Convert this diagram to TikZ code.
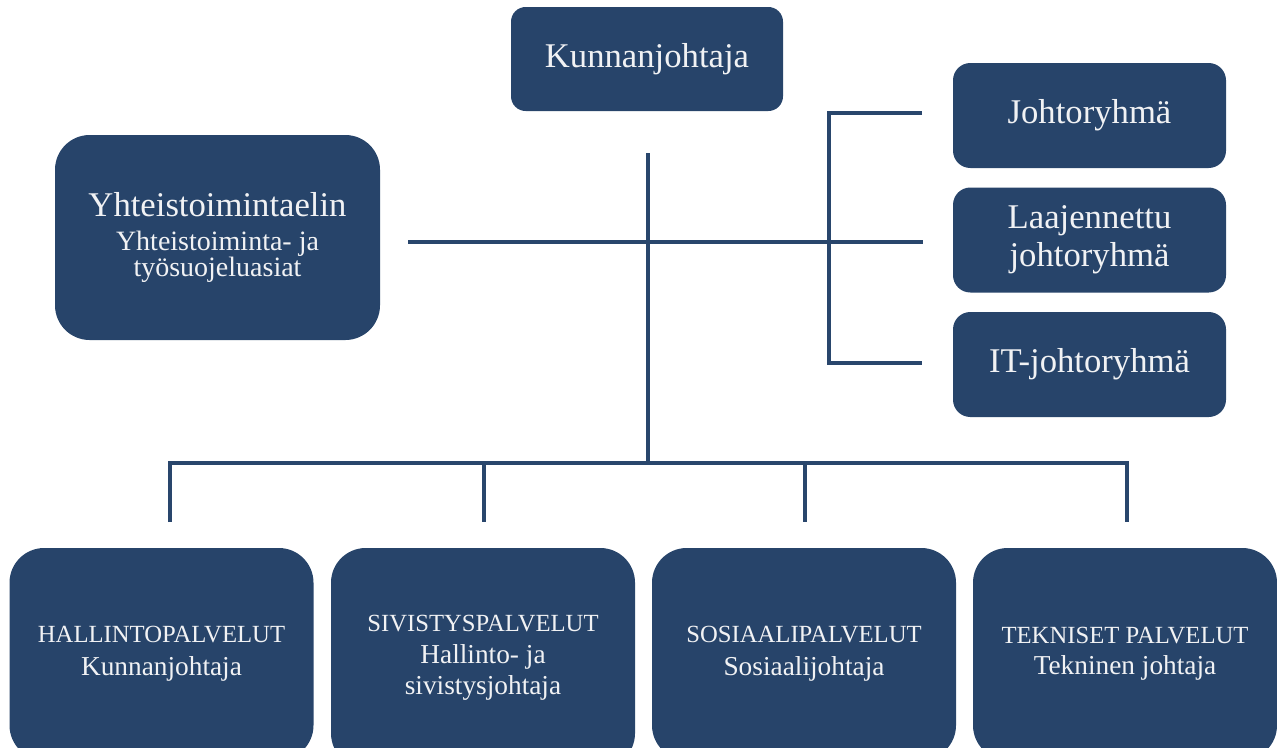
\documentclass[tikz,border=0pt]{standalone}
\usepackage{fontspec}
\setmainfont{Liberation Serif}
\definecolor{boxblue}{RGB}{39,68,106}
\definecolor{lineblue}{RGB}{41,70,108}
\definecolor{txtwhite}{RGB}{241,242,244}
\begin{document}
\begin{tikzpicture}[x=0.75pt,y=-0.75pt,
  orgbox/.style={fill=boxblue,draw=none,text=txtwhite,align=center,inner sep=0pt},
  topbox/.style={orgbox,minimum width=204pt,minimum height=78pt,rounded corners=11pt,font=\fontsize{26}{30}\selectfont},
  sidebox/.style={orgbox,minimum width=204.75pt,minimum height=78.75pt,rounded corners=13pt,font=\fontsize{26}{28.5}\selectfont},
  bigbox/.style={orgbox,minimum width=243.75pt,minimum height=153.75pt,rounded corners=26pt,font=\fontsize{21}{19.5}\selectfont},
  unitbox/.style={orgbox,minimum width=228pt,minimum height=159pt,rounded corners=26pt,font=\fontsize{20.5}{25}\selectfont},
  conn/.style={draw=lineblue,line width=2.4pt}]
\useasboundingbox (0,0) rectangle (1277,747);
\clip (0,0) rectangle (1277,747);

\node[topbox] (kj) at (647,59) {Kunnanjohtaja};
\node[bigbox] (yt) at (217.5,237.5) {{\fontsize{26}{28}\selectfont Yhteistoimintaelin}\\[6pt]Yhteistoiminta- ja\\työsuojeluasiat};
\node[sidebox] (jr) at (1089.5,115.5) {Johtoryhmä};
\node[sidebox] (ljr) at (1089.5,240) {Laajennettu\\johtoryhmä};
\node[sidebox] (itjr) at (1089.5,364.5) {IT-johtoryhmä};

\node[unitbox] (hp) at (161.5,654) {{\fontsize{18.5}{24}\selectfont HALLINTOPALVELUT}\\Kunnanjohtaja};
\node[unitbox,minimum height=165pt] (sp) at (483,658) {{\fontsize{18.5}{24}\selectfont SIVISTYSPALVELUT}\\[-1.5pt]Hallinto- ja\\[-1.5pt]sivistysjohtaja};
\node[unitbox] (so) at (804,654) {{\fontsize{18.5}{24}\selectfont SOSIAALIPALVELUT}\\Sosiaalijohtaja};
\node[unitbox] (tp) at (1125,654) {{\fontsize{18.5}{24}\selectfont TEKNISET PALVELUT}\\[-1.5pt]Tekninen johtaja};

% trunk
\coordinate (trunktop) at (648,153);
\coordinate (trunkbot) at (648,463);
\draw[conn] (trunktop) -- (trunkbot);
% cross line
\coordinate (crossL) at (408,242);
\coordinate (crossR) at (923,242);
\draw[conn] (crossL) -- (crossR);
% bracket to right boxes
\coordinate (brT) at (829,113);
\coordinate (brB) at (829,363);
\coordinate (brTe) at (922,113);
\coordinate (brBe) at (922,363);
\draw[conn] (brTe) -- (brT) -- (brB) -- (brBe);
% bus to units
\coordinate (bus1) at (170,463);
\coordinate (bus2) at (484,463);
\coordinate (bus3) at (805,463);
\coordinate (bus4) at (1127,463);
\coordinate (d1) at (170,522);
\coordinate (d2) at (484,522);
\coordinate (d3) at (805,522);
\coordinate (d4) at (1127,522);
\draw[conn] (d1) -- (bus1) -- (bus4) -- (d4);
\draw[conn] (bus2) -- (d2);
\draw[conn] (bus3) -- (d3);
\end{tikzpicture}
\end{document}
